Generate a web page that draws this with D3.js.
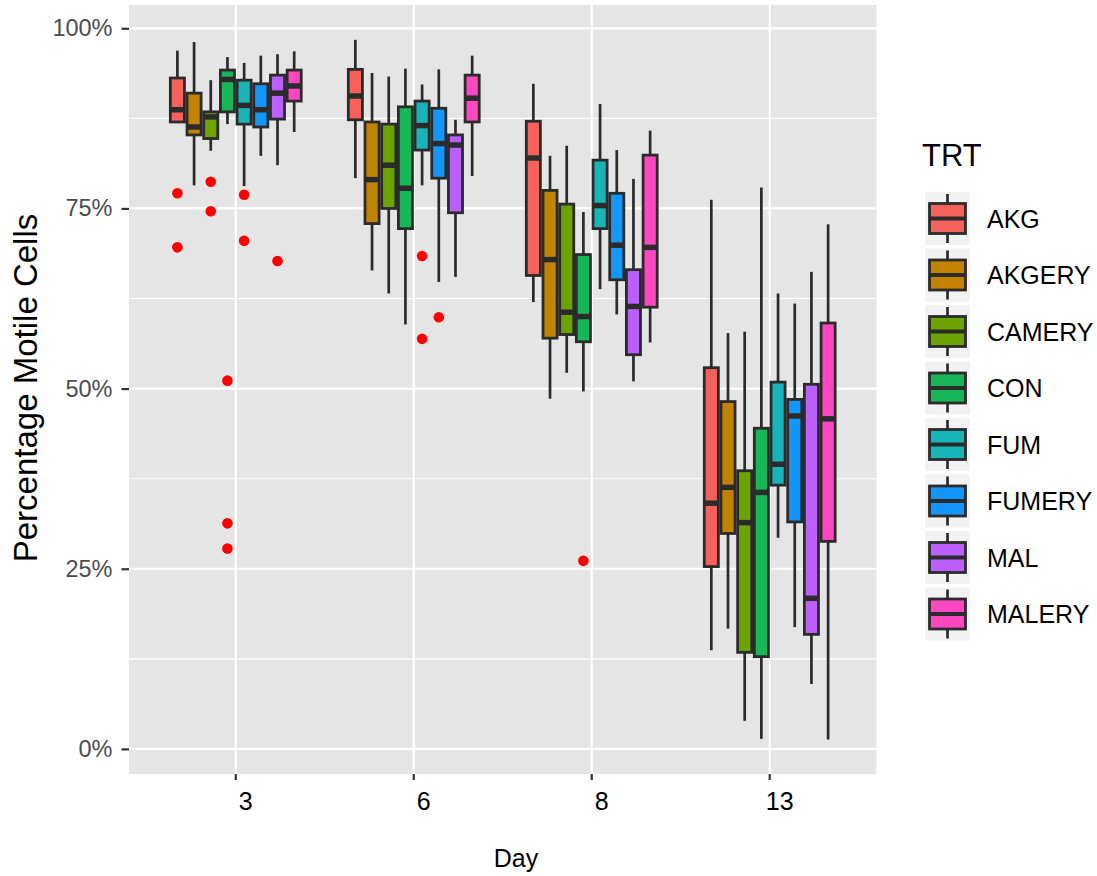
<!DOCTYPE html>
<html>
<head>
<meta charset="utf-8">
<script src="https://cdn.jsdelivr.net/npm/d3@7"></script>
<style>
  html, body { margin: 0; padding: 0; background: #fff; }
  svg { display: block; font-family: "Liberation Sans", Arial, Helvetica, sans-serif; }
</style>
</head>
<body>
<svg id="chart" width="1097" height="876"></svg>
<script>
// ---------------- DATA ----------------
const days = ["3", "6", "8", "13"];
const treatments = ["AKG", "AKGERY", "CAMERY", "CON", "FUM", "FUMERY", "MAL", "MALERY"];
const colors = ["#F5625B", "#C38200", "#6CA300", "#18B658", "#19B4B8", "#1496FF", "#BB60FF", "#FF47C2"];
const yTicks = [0, 25, 50, 75, 100];
const yTickLabels = ["0%", "25%", "50%", "75%", "100%"];
const yMinor = [12.5, 37.5, 62.5, 87.5];

// rows = days (3, 6, 8, 13); columns = treatments in order above (values in %)
const whiskerLow = [
  [86.9, 78.2, 83.0, 86.7, 78.1, 82.3, 81.0, 85.6],
  [79.2, 66.4, 63.2, 58.9, 78.2, 64.8, 65.5, 79.5],
  [62.0, 48.6, 52.2, 49.6, 63.8, 60.3, 51.0, 56.4],
  [13.7, 16.7, 3.9, 1.4, 29.3, 16.9, 9.0, 1.3]
];
const q1 = [
  [87.0, 85.2, 84.7, 88.4, 86.7, 86.3, 87.4, 89.9],
  [87.3, 72.9, 75.0, 72.2, 83.1, 79.2, 74.4, 87.0],
  [65.7, 57.0, 57.5, 56.5, 72.2, 65.1, 54.7, 61.3],
  [25.3, 29.9, 13.4, 12.8, 36.6, 31.5, 15.9, 28.8]
];
const medians = [
  [88.7, 86.3, 87.7, 92.9, 89.3, 88.7, 91.0, 92.0],
  [90.6, 79.0, 81.0, 77.8, 86.5, 84.0, 83.8, 90.3],
  [82.0, 67.9, 60.6, 60.0, 75.4, 69.9, 61.4, 69.6],
  [34.1, 36.3, 31.4, 35.6, 39.5, 46.2, 20.9, 45.8]
];
const q3 = [
  [93.1, 91.0, 88.4, 94.2, 92.8, 92.3, 93.5, 94.2],
  [94.3, 87.0, 86.7, 89.1, 89.9, 88.9, 85.2, 93.5],
  [87.1, 77.5, 75.6, 68.6, 81.7, 77.1, 66.5, 82.4],
  [52.9, 48.2, 38.6, 44.5, 50.9, 48.5, 50.6, 59.1]
];
const whiskerHigh = [
  [96.9, 98.1, 92.8, 96.0, 95.2, 96.2, 96.4, 96.8],
  [98.4, 93.8, 93.3, 94.4, 92.2, 94.3, 87.3, 96.2],
  [92.3, 82.3, 83.7, 74.5, 89.5, 83.1, 79.1, 85.8],
  [76.2, 57.7, 57.9, 77.9, 63.2, 61.8, 66.2, 72.8]
];
// outliers: day, treatment, value
const outlierDay = ["3", "3", "3", "3", "3", "3", "3", "3", "3", "3", "6", "6", "6", "8"];
const outlierTrt = ["AKG", "AKG", "CAMERY", "CAMERY", "CON", "CON", "CON", "FUM", "FUM", "MAL", "FUM", "FUM", "FUMERY", "CON"];
const outlierVal = [77.1, 69.6, 78.7, 74.6, 51.1, 31.3, 27.8, 76.9, 70.5, 67.7, 68.4, 56.9, 59.9, 26.1];

// ---------------- LAYOUT ----------------
const svg = d3.select("#chart");
const panel = { left: 129, right: 876.5, top: 5, bottom: 774 };

const x = d3.scaleBand().domain(days).range([panel.left, panel.right]).paddingInner(0).paddingOuter(0.1);
const dodgeWidth = x.bandwidth() * 0.75;
const xInner = d3.scaleBand().domain(treatments).range([-dodgeWidth / 2, dodgeWidth / 2]).padding(0);
const y = d3.scaleLinear().domain([-3.48, 103.23]).range([panel.bottom, panel.top]);
const color = d3.scaleOrdinal().domain(treatments).range(colors);

// panel background
svg.append("rect")
  .attr("x", panel.left).attr("y", panel.top)
  .attr("width", panel.right - panel.left).attr("height", panel.bottom - panel.top)
  .attr("fill", "#E5E5E5");

// minor gridlines
svg.append("g").selectAll("line").data(yMinor).join("line")
  .attr("x1", panel.left).attr("x2", panel.right)
  .attr("y1", d => y(d)).attr("y2", d => y(d))
  .attr("stroke", "#fff").attr("stroke-width", 1.1);
// major gridlines
svg.append("g").selectAll("line").data(yTicks).join("line")
  .attr("x1", panel.left).attr("x2", panel.right)
  .attr("y1", d => y(d)).attr("y2", d => y(d))
  .attr("stroke", "#fff").attr("stroke-width", 2.2);
svg.append("g").selectAll("line").data(days).join("line")
  .attr("y1", panel.top).attr("y2", panel.bottom)
  .attr("x1", d => x(d) + x.bandwidth() / 2).attr("x2", d => x(d) + x.bandwidth() / 2)
  .attr("stroke", "#fff").attr("stroke-width", 2.2);

// ---------------- BOXES ----------------
const boxes = [];
days.forEach((d, i) => treatments.forEach((t, j) => {
  boxes.push({ day: d, trt: t, lo: whiskerLow[i][j], q1: q1[i][j], med: medians[i][j], q3: q3[i][j], hi: whiskerHigh[i][j] });
}));
const cx = b => x(b.day) + x.bandwidth() / 2 + xInner(b.trt) + xInner.bandwidth() / 2;
const bw = xInner.bandwidth();
const edge = "#2B2B2B";

const g = svg.append("g");
const bg = g.selectAll("g.box").data(boxes).join("g").attr("class", "box");
bg.append("line")
  .attr("x1", cx).attr("x2", cx)
  .attr("y1", b => y(b.hi)).attr("y2", b => y(b.q3))
  .attr("stroke", edge).attr("stroke-width", 2.7);
bg.append("line")
  .attr("x1", cx).attr("x2", cx)
  .attr("y1", b => y(b.q1)).attr("y2", b => y(b.lo))
  .attr("stroke", edge).attr("stroke-width", 2.7);
bg.append("rect")
  .attr("x", b => cx(b) - bw / 2 + 1.3).attr("width", bw - 2.6)
  .attr("y", b => y(b.q3)).attr("height", b => y(b.q1) - y(b.q3))
  .attr("fill", b => color(b.trt))
  .attr("stroke", edge).attr("stroke-width", 2.8);
bg.append("line")
  .attr("x1", b => cx(b) - bw / 2 + 1.3).attr("x2", b => cx(b) + bw / 2 - 1.3)
  .attr("y1", b => y(b.med)).attr("y2", b => y(b.med))
  .attr("stroke", edge).attr("stroke-width", 5.5);

// outliers
const outliers = outlierVal.map((v, k) => ({ day: outlierDay[k], trt: outlierTrt[k], val: v }));
svg.append("g").selectAll("circle").data(outliers).join("circle")
  .attr("cx", cx).attr("cy", o => y(o.val)).attr("r", 5.3)
  .attr("fill", "#FF0000");

// ---------------- AXES ----------------
const yAxis = d3.axisLeft(y).tickValues(yTicks).tickFormat((d, i) => yTickLabels[i]).tickSize(7.5).tickPadding(9);
const yg = svg.append("g").attr("transform", `translate(${panel.left},0)`).call(yAxis);
yg.select(".domain").remove();
yg.selectAll(".tick line").attr("stroke", "#333").attr("stroke-width", 2.2);
yg.selectAll(".tick text").attr("fill", "#4D4D4D").style("font-size", "23.5px")
  .style("font-family", '"Liberation Sans", Arial, sans-serif');

const xAxis = d3.axisBottom(x).tickSize(6).tickPadding(12);
const xg = svg.append("g").attr("transform", `translate(0,${panel.bottom})`).call(xAxis);
xg.select(".domain").remove();
xg.selectAll(".tick line").attr("stroke", "#333").attr("stroke-width", 2.2);
xg.selectAll(".tick text").attr("fill", "#000").style("font-size", "25px")
  .attr("dx", 10)
  .style("font-family", '"Liberation Sans", Arial, sans-serif');

// axis titles
svg.append("text")
  .attr("x", 516).attr("y", 867)
  .attr("text-anchor", "middle")
  .style("font-size", "25px").attr("fill", "#000")
  .text("Day");
svg.append("text")
  .attr("transform", `translate(37,388) rotate(-90)`)
  .attr("text-anchor", "middle")
  .style("font-size", "33px").attr("fill", "#000")
  .text("Percentage Motile Cells");

// ---------------- LEGEND ----------------
const legend = svg.append("g");
legend.append("text")
  .attr("x", 922).attr("y", 166)
  .style("font-size", "31px").attr("fill", "#000")
  .text("TRT");
const keyH = 56.5, keyTop = 192, keyX = 925, keyW = 45;
const items = legend.selectAll("g.item").data(treatments).join("g").attr("class", "item")
  .attr("transform", (d, i) => `translate(${keyX},${keyTop + i * keyH})`);
items.append("rect").attr("x", 0).attr("y", 0).attr("width", keyW).attr("height", keyH - 3.5).attr("fill", "#F2F2F2");
const kc = keyW / 2, kmid = (keyH - 3.5) / 2;
items.append("line").attr("x1", kc).attr("x2", kc).attr("y1", 2).attr("y2", kmid - 15)
  .attr("stroke", edge).attr("stroke-width", 2.7);
items.append("line").attr("x1", kc).attr("x2", kc).attr("y1", kmid + 15).attr("y2", keyH - 5.5)
  .attr("stroke", edge).attr("stroke-width", 2.7);
items.append("rect").attr("x", 4.5).attr("y", kmid - 15).attr("width", keyW - 9).attr("height", 30)
  .attr("fill", d => color(d)).attr("stroke", edge).attr("stroke-width", 2.8);
items.append("line").attr("x1", 4.5).attr("x2", keyW - 4.5).attr("y1", kmid).attr("y2", kmid)
  .attr("stroke", edge).attr("stroke-width", 4);
items.append("text")
  .attr("x", 62).attr("y", kmid).attr("dy", "0.36em")
  .style("font-size", "25px").attr("fill", "#000")
  .text(d => d);
</script>
</body>
</html>
